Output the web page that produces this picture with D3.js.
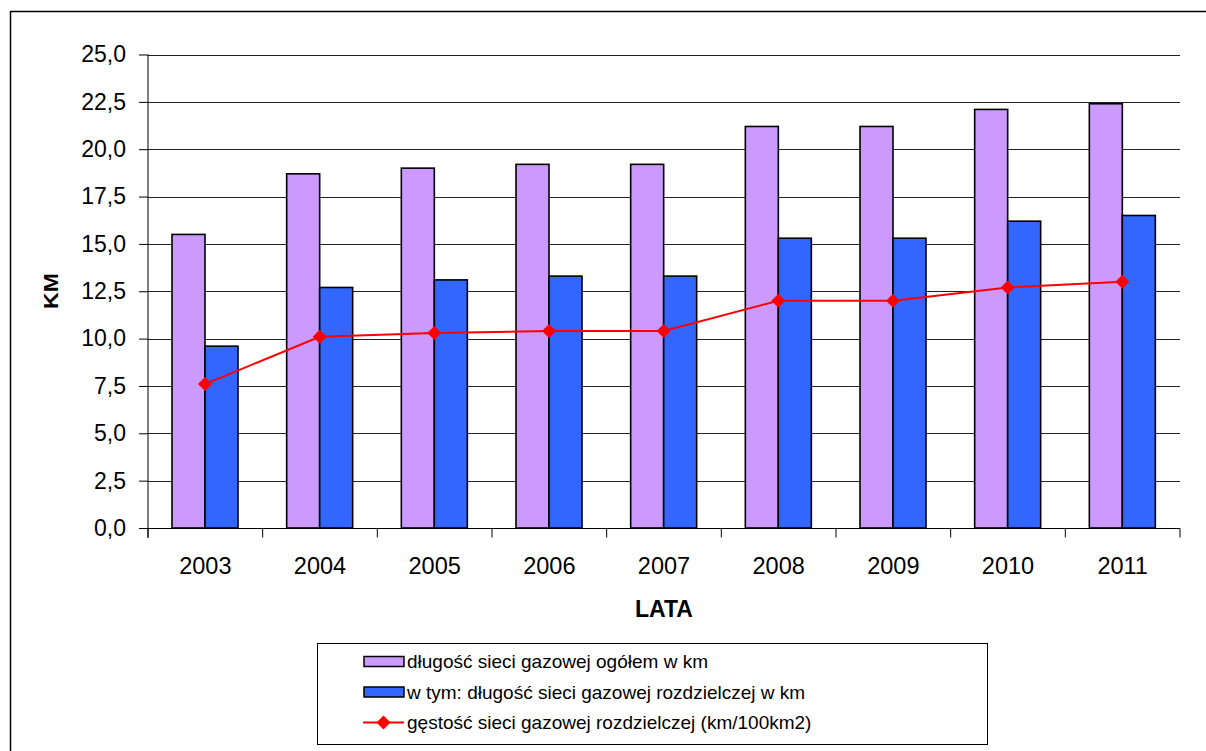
<!DOCTYPE html>
<html><head><meta charset="utf-8">
<script src="https://cdn.jsdelivr.net/npm/d3@7"></script>
<style>body{margin:0;background:#fff}svg{display:block;font-family:"Liberation Sans",Arial,sans-serif}</style>
</head><body>
<script>
const years = ["2003","2004","2005","2006","2007","2008","2009","2010","2011"];
const totalLength = [15.5,18.7,19.0,19.2,19.2,21.2,21.2,22.1,22.4];
const distLength = [9.6,12.7,13.1,13.3,13.3,15.3,15.3,16.2,16.5];
const density = [7.6,10.1,10.3,10.4,10.4,12.0,12.0,12.7,13.0];
const yTicks = [0,2.5,5,7.5,10,12.5,15,17.5,20,22.5,25];
const legendLabels = ["długość sieci gazowej ogółem w km","w tym: długość sieci gazowej rozdzielczej w km","gęstość sieci gazowej rozdzielczej (km/100km2)"];
const colors = {total:"#CC99FF", dist:"#3366FF", line:"#FF0000"};

const W=1206,H=751;
const svg=d3.select("body").append("svg").attr("width",W).attr("height",H);
svg.append("rect").attr("x",10.5).attr("y",11.5).attr("width",1220).attr("height",800).attr("fill","#fff").attr("stroke","#000").attr("stroke-width",1.5);

const L=148,R=1180,T=54.5,B=528;
const x=d3.scaleBand().domain(years).range([L,R]).padding(0);
const y=d3.scaleLinear().domain([0,25]).range([B,T]);
const fmt=d=>d3.format(".1f")(d).replace(".",",");

// gridlines
svg.append("g").selectAll("line").data(yTicks).join("line")
 .attr("x1",L).attr("x2",R).attr("y1",d=>Math.round(y(d))+0.5).attr("y2",d=>Math.round(y(d))+0.5)
 .attr("stroke","#222").attr("stroke-width",1);

// y axis
const ya=svg.append("g").attr("transform",`translate(${L},0)`).call(d3.axisLeft(y).tickValues(yTicks).tickFormat(fmt).tickSize(9).tickPadding(13));
ya.selectAll("text").attr("font-size",23).attr("fill","#000").attr("font-family","Liberation Sans, Arial, sans-serif");
ya.selectAll("line").attr("stroke","#000");
ya.select(".domain").attr("d",`M0,${T}V${B+10}`).attr("stroke","#000");

// x axis
const xa=svg.append("g").attr("transform",`translate(0,${Math.round(B)+0.5})`);
xa.append("line").attr("x1",L).attr("x2",R).attr("stroke","#000");
xa.selectAll("line.t").data(years.concat(["end"])).join("line").attr("class","t")
 .attr("x1",(d,i)=>L+i*x.bandwidth()).attr("x2",(d,i)=>L+i*x.bandwidth()).attr("y1",0).attr("y2",9).attr("stroke","#000");
xa.selectAll("text").data(years).join("text").attr("x",d=>x(d)+x.bandwidth()/2).attr("y",45)
 .attr("text-anchor","middle").attr("font-size",23.5).text(d=>d);

const bw=33, off=24;
svg.append("g").selectAll("rect").data(years).join("rect")
 .attr("x",d=>x(d)+off).attr("y",(d,i)=>y(totalLength[i])).attr("width",bw).attr("height",(d,i)=>B-y(totalLength[i]))
 .attr("fill",colors.total).attr("stroke","#000").attr("stroke-width",1.6);
svg.append("g").selectAll("rect").data(years).join("rect")
 .attr("x",d=>x(d)+off+bw).attr("y",(d,i)=>y(distLength[i])).attr("width",bw).attr("height",(d,i)=>B-y(distLength[i]))
 .attr("fill",colors.dist).attr("stroke","#000").attr("stroke-width",1.6);

const cx=d=>x(d)+off+bw;
const line=d3.line().x((d,i)=>cx(years[i])).y(d=>y(d));
svg.append("path").datum(density).attr("d",line).attr("fill","none").attr("stroke",colors.line).attr("stroke-width",2);
const diamond="M0,-7L7,0L0,7L-7,0Z";
svg.append("g").selectAll("path").data(density).join("path")
 .attr("d",diamond).attr("transform",(d,i)=>`translate(${cx(years[i])},${y(d)})`).attr("fill",colors.line);

// axis titles
svg.append("text").attr("x",(L+R)/2).attr("y",617).attr("text-anchor","middle").attr("font-size",23).attr("font-weight","bold").text("LATA");
svg.append("text").attr("transform","translate(58,291) rotate(-90) scale(1.15,1)").attr("text-anchor","middle").attr("font-size",20).attr("font-weight","bold").text("KM");

// legend
const lg=svg.append("g");
lg.append("rect").attr("x",317.5).attr("y",643.5).attr("width",670).attr("height",101).attr("fill","#fff").attr("stroke","#000").attr("stroke-width",1);
const rows=[661.5,692,722.5];
lg.append("rect").attr("x",364).attr("y",rows[0]-5).attr("width",40).attr("height",10).attr("fill",colors.total).attr("stroke","#000").attr("stroke-width",1.5);
lg.append("rect").attr("x",364).attr("y",rows[1]-5).attr("width",40).attr("height",10).attr("fill",colors.dist).attr("stroke","#000").attr("stroke-width",1.5);
lg.append("line").attr("x1",363).attr("x2",404).attr("y1",rows[2]).attr("y2",rows[2]).attr("stroke",colors.line).attr("stroke-width",2);
lg.append("path").attr("d",diamond).attr("transform",`translate(383.5,${rows[2]})`).attr("fill",colors.line);
lg.selectAll("text").data(legendLabels).join("text").attr("x",407).attr("y",(d,i)=>rows[i]+6.5)
 .attr("font-size",19).text(d=>d);
</script>
</body></html>
